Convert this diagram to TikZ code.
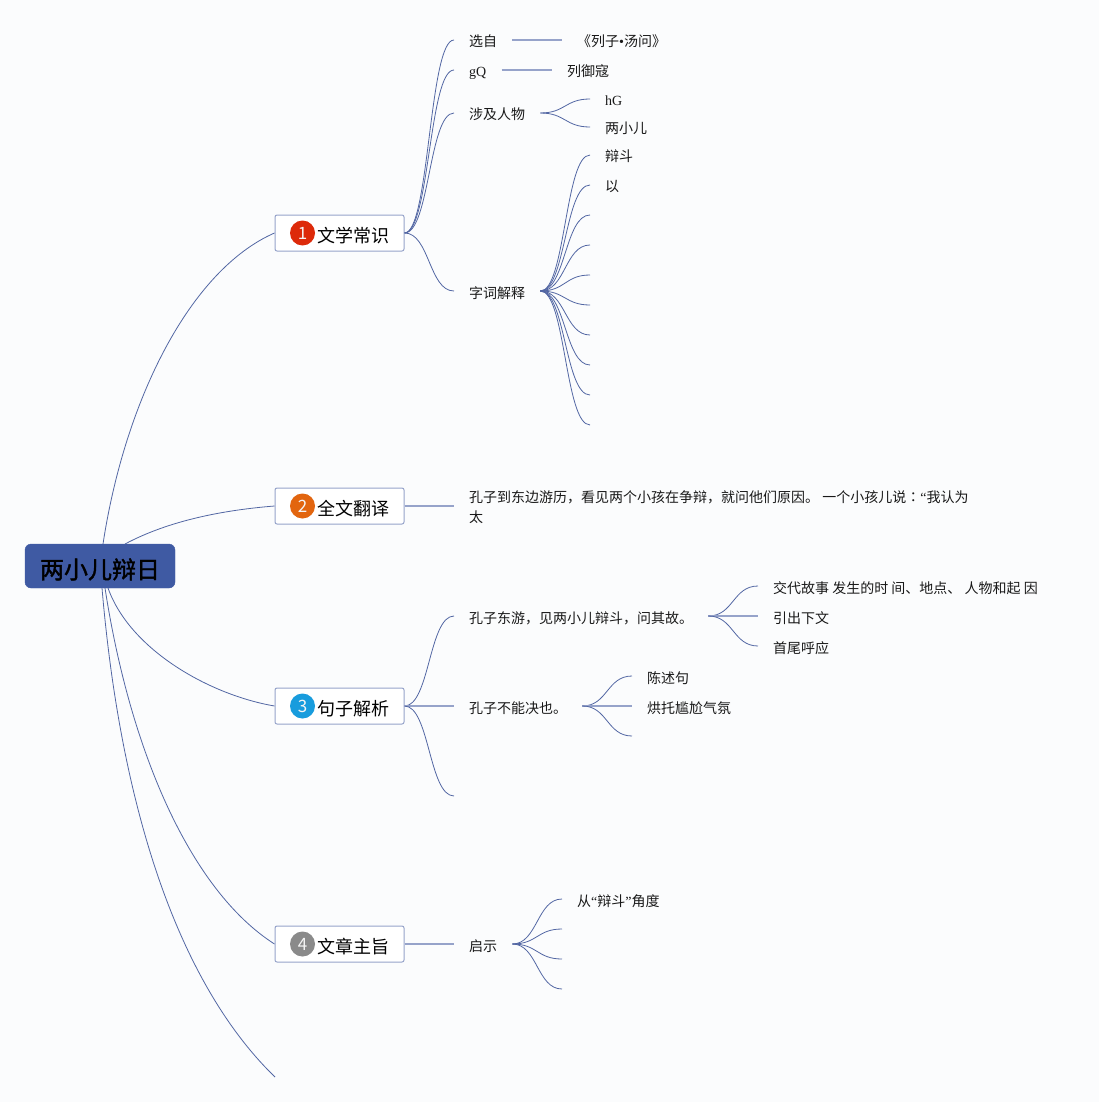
\documentclass[tikz,border=0pt]{standalone}
\usepackage{fontspec}
\setmainfont{Noto Sans CJK SC}
\newfontfamily\latinserif{Liberation Serif}
\newfontfamily\tcfont{Noto Sans CJK TC}
\newfontfamily\rootfont[FakeBold=1.5]{Noto Sans CJK SC}
\definecolor{bgc}{HTML}{FBFCFD}
\definecolor{rootc}{HTML}{3F5AA3}
\definecolor{linec}{HTML}{5266A3}
\definecolor{boxc}{HTML}{96A3CA}
\definecolor{redc}{HTML}{DD2A0A}
\definecolor{orangec}{HTML}{E2650F}
\definecolor{bluec}{HTML}{189CDD}
\definecolor{grayc}{HTML}{8A8A8A}
\tikzset{
  x=1pt,y=-1pt,
  conn/.style={draw=linec,line width=0.8pt},
  stem/.style={draw=boxc,line width=1.1pt},
  roottopic/.style={fill=rootc,draw=rootc,rounded corners=6pt,minimum width=150pt,minimum height=44pt,inner sep=0pt,text height=25pt,text depth=0pt,font=\fontsize{24}{28}\rootfont,text=black},
  branchbox/.style={draw=boxc,fill=white,line width=1pt,rounded corners=2pt,minimum width=129pt,minimum height=36pt,inner sep=0pt,text height=18pt,text depth=0pt,font=\fontsize{18}{22}\selectfont,text=black},
  badge/.style={circle,minimum size=25pt,inner sep=0pt,text=white!92!gray,font=\fontsize{17}{20}\selectfont},
  leaf/.style={anchor=west,inner ysep=0pt,inner xsep=15pt,text height=15pt,text depth=1pt,font=\fontsize{14}{20}\selectfont,text=black!90},
  para/.style={anchor=west,inner ysep=0pt,inner xsep=15pt,align=left,font=\fontsize{14}{20}\selectfont,text=black!90}
}
\newcommand{\fanconn}[2]{\draw[conn] (#1) .. controls ([xshift=25pt]#1) and ([xshift=-25pt]#2) .. (#2);}
\newcommand{\straightconn}[2]{\draw[stem] (#1) -- (#2);}
\begin{document}
\begin{tikzpicture}
\useasboundingbox[fill=bgc] (0,0) rectangle (1099,1102);

% main topic and branches
\node[roottopic] (root) at (100,566) {两小儿辩日};
\coordinate (r1) at (103,544);
\coordinate (r2) at (125,544);
\coordinate (r3) at (108,588);
\coordinate (r4) at (105,588);
\coordinate (r5) at (102,588);
\coordinate (b5) at (275,1077);

\node[branchbox] (b1) at (339.5,233) {\hspace{27pt}文学常识};
\node[branchbox] (b2) at (339.5,506) {\hspace{27pt}全文翻译};
\node[branchbox] (b3) at (339.5,706) {\hspace{27pt}句子解析};
\node[branchbox] (b4) at (339.5,944) {\hspace{27pt}文章主旨};
\node[badge,fill=redc] (n1) at (302.5,233) {1};
\node[badge,fill=orangec] (n2) at (302.5,506) {2};
\node[badge,fill=bluec] (n3) at (302.5,706) {3};
\node[badge,fill=grayc] (n4) at (302.5,944) {4};

\draw[conn] (r1) .. controls (125,400) and (190,270) .. (b1.west);
\draw[conn] (r2) .. controls (170,520) and (225,510) .. (b2.west);
\draw[conn] (r3) .. controls (130,650) and (210,695) .. (b3.west);
\draw[conn] (r4) .. controls (130,750) and (190,890) .. (b4.west);
\draw[conn] (r5) .. controls (120,800) and (175,980) .. (b5);

% branch 1
\node[leaf] (a1) at (454,40) {选自};
\node[leaf] (a1x) at (562,40) {《列子{\latinserif •}汤问》};
\node[leaf] (a2) at (454,70) {{\latinserif gQ}};
\node[leaf] (a2x) at (552,70) {列御寇};
\node[leaf] (a3) at (454,113) {涉及人物};
\node[leaf] (a3x) at (590,99) {{\latinserif hG}};
\node[leaf] (a3y) at (590,127) {两小儿};
\node[leaf] (a4) at (454,291) {字词解释};
\node[leaf] (w1) at (590,155) {辩斗};
\node[leaf] (w2) at (590,185) {以};
\coordinate (w3) at (590,215);
\coordinate (w4) at (590,245);
\coordinate (w5) at (590,275);
\coordinate (w6) at (590,305);
\coordinate (w7) at (590,335);
\coordinate (w8) at (590,365);
\coordinate (w9) at (590,395);
\coordinate (w10) at (590,425);

\fanconn{b1.east}{a1.west}
\fanconn{b1.east}{a2.west}
\fanconn{b1.east}{a3.west}
\fanconn{b1.east}{a4.west}
\straightconn{a1.east}{a1x.west}
\straightconn{a2.east}{a2x.west}
\fanconn{a3.east}{a3x.west}
\fanconn{a3.east}{a3y.west}
\fanconn{a4.east}{w1.west}
\fanconn{a4.east}{w2.west}
\fanconn{a4.east}{w3}
\fanconn{a4.east}{w4}
\fanconn{a4.east}{w5}
\fanconn{a4.east}{w6}
\fanconn{a4.east}{w7}
\fanconn{a4.east}{w8}
\fanconn{a4.east}{w9}
\fanconn{a4.east}{w10}

% branch 2
\node[para] (c1) at (454,507.5) {孔子到东边游历，看见两个小孩在争辩，就问他们原因。 一个小孩儿说{\tcfont ：}{\latinserif “}我认为\\太};
\draw[stem] (b2.east) -- (c1.west|-b2.east);

% branch 3
\node[leaf] (d1) at (454,616) {孔子东游，见两小儿辩斗，问其故。};
\node[leaf] (d1a) at (758,586) {交代故事 发生的时 间、地点、 人物和起 因};
\node[leaf] (d1b) at (758,616) {引出下文};
\node[leaf] (d1c) at (758,646) {首尾呼应};
\node[leaf] (d2) at (454,706) {孔子不能决也。};
\node[leaf] (d2a) at (632,676) {陈述句};
\node[leaf] (d2b) at (632,706) {烘托尴尬气氛};
\coordinate (d2c) at (632,736);
\coordinate (d3) at (454,796);

\fanconn{b3.east}{d1.west}
\straightconn{b3.east}{d2.west}
\fanconn{b3.east}{d3}
\fanconn{d1.east}{d1a.west}
\straightconn{d1.east}{d1b.west}
\fanconn{d1.east}{d1c.west}
\fanconn{d2.east}{d2a.west}
\straightconn{d2.east}{d2b.west}
\fanconn{d2.east}{d2c}

% branch 4
\node[leaf] (e1) at (454,944) {启示};
\node[leaf] (e1a) at (562,899) {从{\latinserif “}辩斗{\latinserif ”}角度};
\coordinate (e1b) at (562,929);
\coordinate (e1c) at (562,959);
\coordinate (e1d) at (562,989);
\straightconn{b4.east}{e1.west}
\fanconn{e1.east}{e1a.west}
\fanconn{e1.east}{e1b}
\fanconn{e1.east}{e1c}
\fanconn{e1.east}{e1d}
\end{tikzpicture}
\end{document}
